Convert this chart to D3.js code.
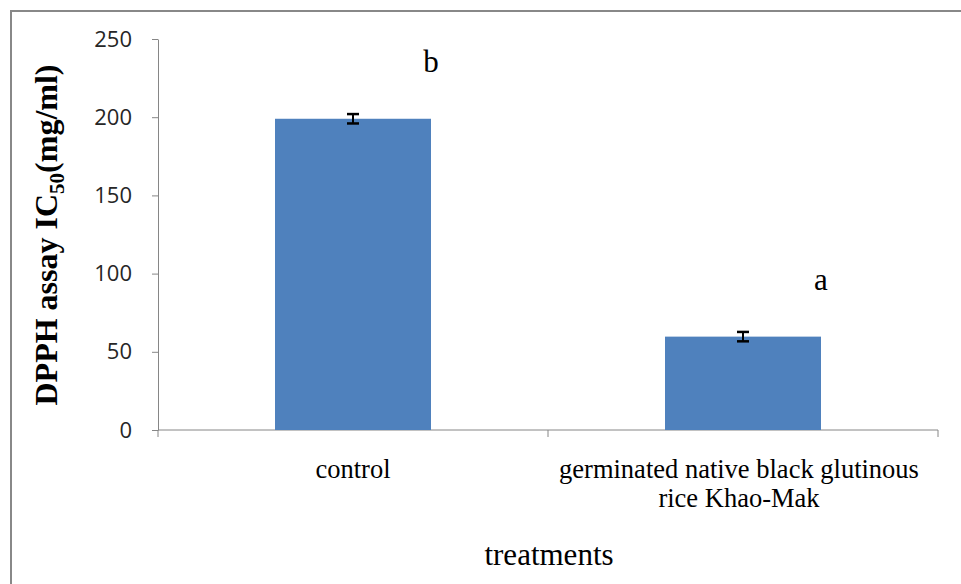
<!DOCTYPE html>
<html><head><meta charset="utf-8">
<script src="https://cdn.jsdelivr.net/npm/d3@7"></script>
<style>body{margin:0;background:#fff}svg{display:block}</style>
</head><body>
<svg id="c" width="961" height="584"></svg>
<script>
const categories = [["control"], ["germinated native black glutinous", "rice Khao-Mak"]];
const values = [199, 59.7];
const errors = [3, 3];
const letters = ["b", "a"];
const yTicks = [0, 50, 100, 150, 200, 250];

const svg = d3.select("#c");
const W = 961, H = 584;
const m = {left: 158, right: 23, top: 39, bottom: 154};
const x = d3.scaleBand().domain(d3.range(categories.length)).range([m.left, W - m.right]).paddingInner(0.6).paddingOuter(0.3);
const y = d3.scaleLinear().domain([0, 250]).range([H - m.bottom, m.top]);

// outer border
svg.append("rect").attr("x", 11).attr("y", 11).attr("width", 970).attr("height", 600)
  .attr("fill", "none").attr("stroke", "#888").attr("stroke-width", 2);

// y axis
const ya = svg.append("g").attr("transform", `translate(${m.left},0)`)
  .call(d3.axisLeft(y).tickValues(yTicks).tickSize(6).tickSizeOuter(0).tickPadding(20));
ya.select(".domain").attr("stroke", "#868686");
ya.selectAll(".tick line").attr("stroke", "#868686");
ya.selectAll(".tick text").attr("font-family", "'Open Sans', sans-serif").attr("font-size", 22).attr("fill", "#262626");

// x axis line with boundary ticks
const x0 = y(0);
const bounds = [m.left, ...d3.range(1, categories.length).map(i => (x(i - 1) + x.bandwidth() + x(i)) / 2), W - m.right];
svg.append("line").attr("x1", m.left).attr("x2", W - m.right).attr("y1", x0).attr("y2", x0).attr("stroke", "#868686");
svg.selectAll(".xb").data(bounds).enter().append("line")
  .attr("x1", d => d).attr("x2", d => d).attr("y1", x0).attr("y2", x0 + 7).attr("stroke", "#868686");

// bars
svg.selectAll(".bar").data(values).enter().append("rect")
  .attr("x", (d, i) => x(i)).attr("width", x.bandwidth())
  .attr("y", d => y(d)).attr("height", d => y(0) - y(d))
  .attr("fill", "#4F81BD");

// error bars
values.forEach((v, i) => {
  const cx = x(i) + x.bandwidth() / 2;
  const g = svg.append("g").attr("stroke", "#000").attr("stroke-width", 2);
  g.append("line").attr("x1", cx).attr("x2", cx).attr("y1", y(v + errors[i])).attr("y2", y(v - errors[i]));
  g.append("line").attr("x1", cx - 6).attr("x2", cx + 6).attr("y1", y(v + errors[i])).attr("y2", y(v + errors[i])).attr("stroke-width", 2.5);
  g.append("line").attr("x1", cx - 6).attr("x2", cx + 6).attr("y1", y(v - errors[i])).attr("y2", y(v - errors[i])).attr("stroke-width", 2.5);
});

// significance letters
svg.selectAll(".let").data(letters).enter().append("text")
  .attr("x", (d, i) => x(i) + x.bandwidth()).attr("y", (d, i) => y(values[i]) - 47)
  .attr("text-anchor", "middle").attr("font-family", "'Liberation Serif', serif").attr("font-size", 31)
  .text(d => d);

// category labels
categories.forEach((lines, i) => {
  const t = svg.append("text").attr("text-anchor", "middle")
    .attr("font-family", "'Liberation Serif', serif").attr("font-size", 26.5).attr("fill", "#000");
  lines.forEach((ln, j) => {
    t.append("tspan").attr("x", x(i) + x.bandwidth() / 2 - (lines.length > 1 ? 4 : 0)).attr("y", 478 + j * 29).text(ln);
  });
});

// x title
svg.append("text").attr("x", 549).attr("y", 565).attr("text-anchor", "middle")
  .attr("font-family", "'Liberation Serif', serif").attr("font-size", 31).text("treatments");

// y title
const yt = svg.append("text").attr("transform", "translate(57,235) rotate(-90)").attr("text-anchor", "middle")
  .attr("font-family", "'Liberation Serif', serif").attr("font-size", 32).attr("font-weight", "bold");
yt.append("tspan").text("DPPH assay IC");
yt.append("tspan").attr("font-size", 21).attr("dy", 7).text("50");
yt.append("tspan").attr("dy", -7).text("(mg/ml)");
</script>
</body></html>
